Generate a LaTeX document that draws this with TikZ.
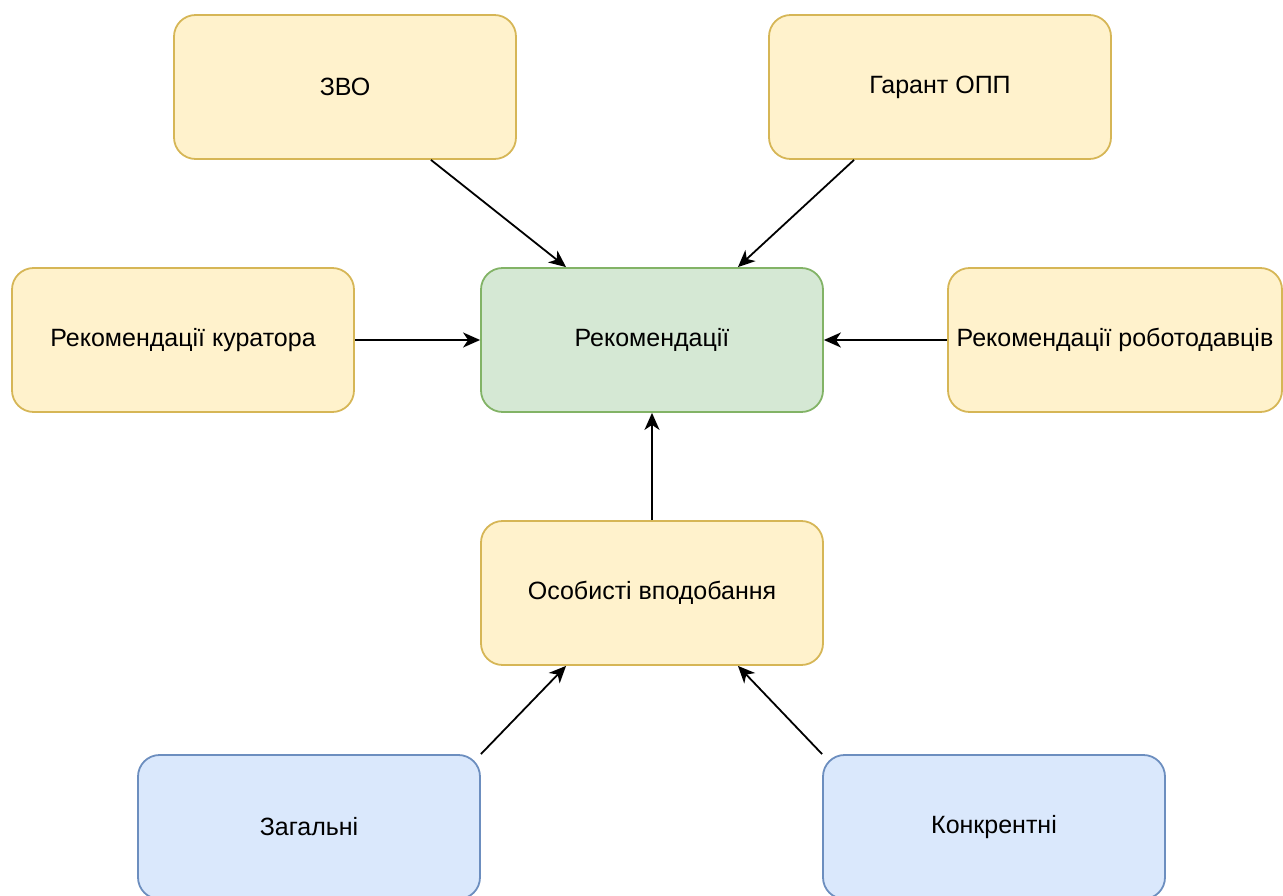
\documentclass[tikz,border=0pt]{standalone}
\usepackage{fontspec}
\setmainfont{Liberation Sans}
\usetikzlibrary{calc,arrows.meta}

\definecolor{yfill}{HTML}{FFF2CC}
\definecolor{ydraw}{HTML}{D6B656}
\definecolor{gfill}{HTML}{D5E8D4}
\definecolor{gdraw}{HTML}{82B366}
\definecolor{bfill}{HTML}{DAE8FC}
\definecolor{bdraw}{HTML}{6C8EBF}

\tikzset{
  card/.style={rectangle, rounded corners=21.6pt, line width=1.8pt,
    minimum width=342pt, minimum height=144pt, inner sep=0pt,
    font=\fontsize{25}{30}\selectfont, text=black},
  yellowcard/.style={card, fill=yfill, draw=ydraw},
  greencard/.style={card, fill=gfill, draw=gdraw},
  bluecard/.style={card, fill=bfill, draw=bdraw},
  link/.style={line width=1.8pt, black,
    -{Stealth[length=17pt, width=15pt, inset=5pt]}}
}

\begin{document}
\begin{tikzpicture}[x=1pt, y=-1pt]
  \useasboundingbox (0,0) rectangle (1283,896);

  % central node and its sources
  \node[greencard]  (rek)    at (652,340) {Рекомендації};
  \node[yellowcard] (zvo)    at (345,87)  {ЗВО};
  \node[yellowcard] (garant) at (940,87)  {Гарант ОПП};
  \node[yellowcard] (kur)    at (183,340) {Рекомендації куратора};
  \node[yellowcard, minimum width=334pt] (rob) at (1115,340) {Рекомендації роботодавців};
  \node[yellowcard] (osob)   at (652,593) {Особисті вподобання};

  % kinds of personal preferences
  \node[bluecard] (zag)  at (309,827) {Загальні};
  \node[bluecard] (konk) at (994,827) {Конкрентні};

  % connectors
  \draw[link] ($(zvo.south west)!0.75!(zvo.south east)$) -- ($(rek.north west)!0.25!(rek.north east)$);
  \draw[link] ($(garant.south west)!0.25!(garant.south east)$) -- ($(rek.north west)!0.75!(rek.north east)$);
  \draw[link] (kur.east) -- (rek.west);
  \draw[link] (rob.west) -- (rek.east);
  \draw[link] (osob.north) -- (rek.south);
  \draw[link] (zag.north east) -- ($(osob.south west)!0.25!(osob.south east)$);
  \draw[link] (konk.north west) -- ($(osob.south west)!0.75!(osob.south east)$);
\end{tikzpicture}
\end{document}
